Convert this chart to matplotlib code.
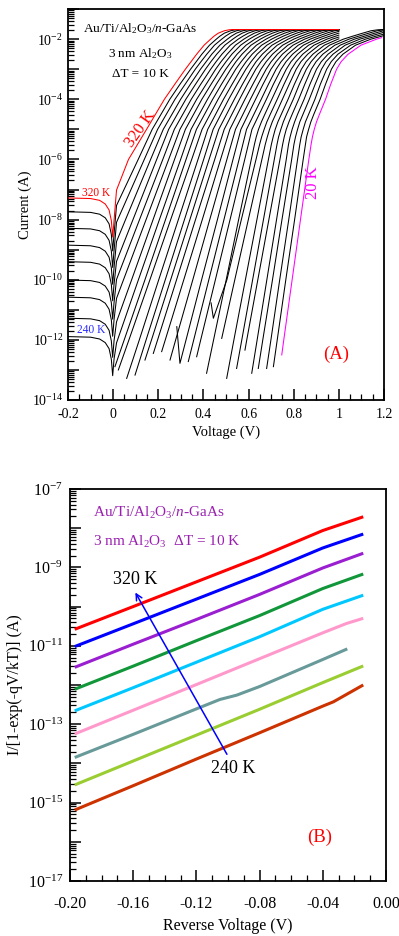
import numpy as np
import matplotlib
matplotlib.use('Agg')
import matplotlib.pyplot as plt
from matplotlib.ticker import LogLocator, FuncFormatter, MultipleLocator, NullFormatter

plt.rcParams['font.family'] = ['Liberation Serif', 'DejaVu Serif']
plt.rcParams['mathtext.fontset'] = 'custom'
plt.rcParams['mathtext.rm'] = 'Liberation Serif'
plt.rcParams['mathtext.it'] = 'Liberation Serif:italic'
plt.rcParams['mathtext.bf'] = 'Liberation Serif:bold'
plt.rcParams['axes.unicode_minus'] = False

nan = np.nan

# ---------------- panel (A): I-V curves, 320 K down to 20 K ----------------
fwd_temps = [320, 310, 300, 290, 280, 270, 260, 250, 240, 230, 220, 210, 200, 190, 180,
             170, 160, 150, 140, 130, 120, 110, 100, 90, 80, 70, 60, 50, 40, 30, 20]

# log10(I) levels and the voltage where each curve crosses them
levels = [-12, -10, -8, -6, -5, -4, -3.5, -3, -2.75, -2.5, -2.2, -2.0, -1.9, -1.8, -1.72, -1.69, -1.68]
v_cross = [
    [nan, nan, nan, .068, .148, .227, .273, .320, .345, .370, .403, .432, .447, .466, .493, .513, .528],
    [nan, nan, nan, .111, .173, .251, .296, .343, .368, .393, .427, .457, .473, .493, .521, .541, .556],
    [nan, nan, nan, .138, .197, .274, .319, .364, .389, .415, .449, .481, .498, .519, .547, .568, .583],
    [nan, nan, .055, .166, .222, .299, .342, .387, .412, .437, .473, .506, .524, .546, .575, .596, .611],
    [nan, nan, .088, .193, .246, .322, .365, .409, .433, .459, .495, .530, .549, .572, .601, .622, .638],
    [nan, nan, .117, .220, .271, .346, .388, .432, .456, .482, .519, .554, .575, .599, .629, .650, .666],
    [nan, .046, .146, .246, .296, .370, .412, .454, .478, .505, .542, .579, .601, .626, .656, .678, .694],
    [nan, .082, .177, .272, .320, .393, .434, .476, .500, .526, .565, .603, .626, .652, .683, .705, .721],
    [nan, .112, .205, .299, .345, .418, .457, .499, .523, .549, .589, .628, .652, .680, .710, .733, .749],
    [.049, .141, .232, .323, .369, .441, .480, .521, .544, .571, .611, .652, .677, .706, .737, .760, .776],
    [.070, .163, .255, .348, .394, .465, .503, .543, .567, .594, .635, .677, .703, .733, .764, .787, .804],
    [.116, .202, .289, .376, .419, .489, .527, .566, .589, .616, .658, .702, .729, .760, .792, .815, .832],
    [.146, .231, .316, .401, .443, .512, .549, .588, .611, .638, .681, .726, .754, .786, .818, .842, .859],
    [.170, .255, .340, .425, .468, .537, .573, .611, .633, .661, .704, .751, .780, .813, .846, .870, .887],
    [.197, .281, .365, .450, .492, .560, .595, .632, .655, .683, .727, .775, .805, .839, .872, .897, .914],
    [.231, .313, .395, .476, .517, .584, .619, .655, .678, .706, .751, .800, .832, .866, .900, .925, .942],
    [.277, .353, .428, .504, .542, .608, .642, .678, .700, .728, .774, .824, .858, .893, .927, .952, .970],
    [.323, .392, .462, .531, .566, .631, .664, .699, .722, .750, .797, .848, .883, .919, .954, .979, .997],
    [.357, .424, .491, .558, .591, .656, .688, .722, .744, .773, .820, .873, .909, .946, .981, nan, nan],
    [.388, .453, .518, .583, .615, .679, .710, .744, .766, .795, .843, .897, .934, .972, nan, nan, nan],
    [.445, .501, .556, .612, nan, .703, .734, .767, .788, .817, .866, .922, .960, .999, nan, nan, nan],
    [nan, .504, .568, .633, nan, .727, .757, .789, .811, .840, .890, .947, .986, nan, nan, nan, nan],
    [nan, .539, .599, .659, nan, .750, .780, .811, .832, .862, .912, .971, nan, nan, nan, nan, nan],
    [.535, .586, .637, .688, nan, .775, .803, .834, .855, .885, .936, .996, nan, nan, nan, nan, nan],
    [.570, .618, .666, .714, nan, .798, .825, .856, .877, .906, .959, 1.020, 1.062, 1.106, 1.143, 1.171, 1.190],
    [.592, .641, .690, .739, nan, .822, .849, .878, .899, .929, .982, 1.045, 1.088, 1.133, 1.171, 1.199, nan],
    [.638, .681, .724, .767, nan, .846, .872, .901, .922, .952, 1.006, 1.069, 1.114, 1.160, 1.198, nan, nan],
    [.663, .706, .748, .791, nan, .869, .895, .923, .943, .974, 1.028, 1.093, 1.139, 1.186, nan, nan, nan],
    [.699, .738, .778, .817, nan, .894, .918, .946, .966, .996, 1.052, 1.118, 1.165, nan, nan, nan, nan],
    [.727, .765, .804, .842, nan, .917, .941, .967, .987, 1.018, 1.074, 1.142, 1.190, nan, nan, nan, nan],
    [.756, .793, .830, .867, nan, .941, .964, .990, 1.010, 1.041, 1.098, 1.167, nan, nan, nan, nan, nan],
]

# bend near 1e-5 A on the low-temperature curves (120 K - 20 K)
knee_temps = [120, 110, 100, 90, 80, 70, 60, 50, 40, 30, 20]
knee_levels = [-5.5, -5.25, -5.0, -4.75, -4.5]
knee_v = [
    [.626, .634, .644, .657, .672],
    [.649, .658, .669, .681, .696],
    [.674, .683, .693, .705, .720],
    [.701, .709, .718, .730, .745],
    [.726, .733, .743, .754, .768],
    [.751, .758, .767, .779, .793],
    [.777, .784, .793, .804, .817],
    [.801, .808, .817, .827, .841],
    [.827, .833, .842, .852, .866],
    [.852, .857, .866, .876, .889],
    [.877, .883, .891, .901, .914],
]

# first forward point of each curve
start_v = [0.015] * 9 + [.008, .023, .060, .097, .141, .178, .215, .252, .296, .333, .370,
                         .414, .444, .481, .503, .547, .584, .614, .643, .680, .710, .747]
start_log = [-7.02, -7.53, -8.09, -8.73, -9.39, -9.99, -10.62, -11.40, -12.10,
             -12.89, -13.00, -13.28, -13.17, -12.67, -12.45, -12.39, -12.67, -12.78, -12.72,
             -12.56, -13.11, -11.28, -11.95, -13.28, -12.95, -12.34, -13.11, -12.95, -12.95,
             -12.89, -12.50]
# last point of each curve
end_v = [1.0] * 24 + [1.2] * 6 + [1.19]
end_log = [-1.68] * 18 + [-1.70, -1.74, -1.80, -1.865, -1.93, -1.99,
                          -1.68, -1.685, -1.715, -1.77, -1.83, -1.88, -1.95]

# small spikes at the start of two curves
hook_temps = [150, 110]
hook_v = [0.282, 0.434]
hook_log = [-11.56, -10.77]

# reverse-bias part (240 - 320 K)
rev_temps = [320, 310, 300, 290, 280, 270, 260, 250, 240]
rev_v = [-0.2, -0.1, -0.06, -0.035, -0.018, -0.008, -0.002, 0.004]
rev_log = [
    [-7.28, -7.30, -7.36, -7.48, -7.68, -8.03, -8.58, -8.03],
    [-7.74, -7.76, -7.82, -7.94, -8.14, -8.49, -9.04, -8.49],
    [-8.29, -8.31, -8.37, -8.49, -8.69, -9.04, -9.59, -9.04],
    [-8.85, -8.87, -8.93, -9.05, -9.25, -9.60, -10.15, -9.60],
    [-9.40, -9.42, -9.48, -9.60, -9.80, -10.15, -10.70, -10.15],
    [-10.01, -10.03, -10.09, -10.21, -10.41, -10.76, -11.31, -10.76],
    [-10.58, -10.60, -10.66, -10.78, -10.98, -11.33, -11.88, -11.33],
    [-11.28, -11.30, -11.36, -11.48, -11.68, -12.03, -12.58, -12.03],
    [-11.89, -11.91, -11.97, -12.09, -12.29, -12.64, -13.19, -12.64],
]

# ---------------- panel (B): I/[1-exp(-qV/kT)] vs reverse voltage ----------------
b_colors = ['#ff0000', '#0000ff', '#9a1fd0', '#11973a', '#00c8ff',
            '#ff99cc', '#689a9a', '#9acd32', '#cc3300']
b_v = [
    [-0.197, -0.16, -0.12, -0.08, -0.04, -0.0144],
    [-0.197, -0.16, -0.12, -0.08, -0.04, -0.0144],
    [-0.197, -0.16, -0.12, -0.08, -0.04, -0.0144],
    [-0.197, -0.16, -0.12, -0.08, -0.04, -0.0144],
    [-0.197, -0.16, -0.12, -0.08, -0.04, -0.0144],
    [-0.197, -0.16, -0.12, -0.08, -0.04, -0.0249, -0.0144],
    [-0.197, -0.16, -0.12, -0.1051, -0.0945, -0.08, -0.04, -0.0245],
    [-0.197, -0.16, -0.12, -0.08, -0.04, -0.0144],
    [-0.197, -0.16, -0.12, -0.08, -0.04, -0.0333, -0.0144],
]
b_log = [
    [-10.58, -10.00, -9.37, -8.74, -8.06, -7.71],
    [-11.02, -10.44, -9.81, -9.18, -8.505, -8.15],
    [-11.55, -10.96, -10.33, -9.69, -9.015, -8.64],
    [-12.11, -11.52, -10.87, -10.23, -9.54, -9.17],
    [-12.66, -12.07, -11.42, -10.77, -10.07, -9.71],
    [-13.25, -12.645, -11.99, -11.33, -10.67, -10.43, -10.30],
    [-13.85, -13.26, -12.61, -12.37, -12.26, -12.04, -11.35, -11.08],
    [-14.55, -13.94, -13.28, -12.62, -11.94, -11.515],
    [-15.19, -14.57, -13.89, -13.22, -12.54, -12.43, -12.00],
]


def log_label(keep_odd):
    def fmt(val, pos):
        e = int(round(np.log10(val)))
        if (e % 2 == 1) == keep_odd:
            return r'$10^{%d}$' % e
        return ''
    return fmt


def style_axis(ax, fs):
    for s in ax.spines.values():
        s.set_linewidth(1.3)
    ax.tick_params(which='both', direction='in', top=False, right=False, labelsize=fs)
    ax.tick_params(which='major', length=8, width=1.1)
    ax.tick_params(which='minor', length=4, width=0.9)
    ax.yaxis.set_major_locator(LogLocator(base=10, subs=(1.0,), numticks=50))
    ax.yaxis.set_minor_locator(LogLocator(base=10, subs=np.arange(2, 10) * 1.0, numticks=50))
    ax.yaxis.set_minor_formatter(NullFormatter())


fig = plt.figure(figsize=(3.99, 9.36), dpi=100)

# ---- panel A ----
axA = fig.add_axes([0.1704, 0.5726, 0.792, 0.4177])
for i, t in enumerate(fwd_temps):
    vv, ll = [], []
    if t in rev_temps:
        j = rev_temps.index(t)
        vv += rev_v
        ll += rev_log[j]
    if t in hook_temps:
        j = hook_temps.index(t)
        vv.append(hook_v[j])
        ll.append(hook_log[j])
    vv.append(start_v[i])
    ll.append(start_log[i])
    pts = list(zip(levels, v_cross[i]))
    if t in knee_temps:
        pts += list(zip(knee_levels, knee_v[knee_temps.index(t)]))
    pts.sort(key=lambda p: p[0])
    for lev, v in pts:
        if np.isnan(v) or lev <= start_log[i] or v <= start_v[i] or v >= end_v[i]:
            continue
        vv.append(v)
        ll.append(lev)
    vv.append(end_v[i])
    ll.append(end_log[i])
    if t == 320:
        col, z = '#ff0000', 3
    elif t == 20:
        col, z = '#ff00ff', 3
    else:
        col, z = 'black', 2
    axA.plot(vv, 10.0 ** np.array(ll), color=col, lw=0.75, zorder=z)

axA.set_yscale('log')
axA.set_xlim(-0.2, 1.2)
axA.set_ylim(1e-14, 1e-1)
style_axis(axA, 10)
axA.yaxis.set_major_formatter(FuncFormatter(log_label(False)))
axA.xaxis.set_major_locator(MultipleLocator(0.2))
axA.xaxis.set_minor_locator(MultipleLocator(0.05))
axA.xaxis.set_major_formatter(FuncFormatter(lambda x, p: '0' if abs(x) < 1e-9 else ('%g' % round(x, 2))))
axA.tick_params(axis='x', pad=6)
axA.set_xlabel('Voltage (V)', fontsize=10.5, labelpad=3)
axA.set_ylabel('Current (A)', fontsize=10.5)
axA.yaxis.set_label_coords(-0.115, 0.5)

axA.text(0.228, 0.949, r'Au/Ti/Al$_2$O$_3$/$n$-GaAs', transform=axA.transAxes,
         ha='center', va='center', fontsize=9.5)
axA.text(0.228, 0.887, r'3 nm Al$_2$O$_3$', transform=axA.transAxes,
         ha='center', va='center', fontsize=9.5)
axA.text(0.228, 0.834, 'ΔT = 10 K', transform=axA.transAxes,
         ha='center', va='center', fontsize=9.5)
axA.text(0.123, 10 ** -4.99, '320 K', color='#ff0000', rotation=55,
         ha='center', va='center', fontsize=12)
axA.text(-0.076, 10 ** -7.12, '320 K', color='#ff0000', ha='center', va='center', fontsize=8.3)
axA.text(-0.098, 10 ** -11.67, '240 K', color='#2a2aff', ha='center', va='center', fontsize=8.3)
axA.text(0.885, 10 ** -6.78, '20 K', color='#ff00ff', rotation=90,
         ha='center', va='center', fontsize=12)
axA.text(0.850, 0.118, '(A)', color='#ff0000', transform=axA.transAxes,
         ha='center', va='center', fontsize=13.5)

# ---- panel B ----
axB = fig.add_axes([0.1754, 0.0588, 0.792, 0.4188])
for vv, ll, col in zip(b_v, b_log, b_colors):
    axB.plot(vv, 10.0 ** np.array(ll), color=col, lw=2.2, solid_capstyle='butt')

axB.set_yscale('log')
axB.set_xlim(-0.2, 0.0)
axB.set_ylim(1e-17, 1e-7)
style_axis(axB, 11.5)
axB.yaxis.set_major_formatter(FuncFormatter(log_label(True)))
axB.xaxis.set_major_locator(MultipleLocator(0.04))
axB.xaxis.set_minor_locator(MultipleLocator(0.01))
axB.xaxis.set_major_formatter(FuncFormatter(lambda x, p: '%.2f' % (0.0 if abs(x) < 1e-9 else x)))
axB.tick_params(axis='x', pad=11)
axB.tick_params(axis='y', pad=5)
axB.set_xlabel('Reverse Voltage (V)', fontsize=11.5, labelpad=4)
axB.set_ylabel('I/[1-exp(-qV/kT)] (A)', fontsize=11.5)
axB.yaxis.set_label_coords(-0.148, 0.5)

axB.text(0.072, 0.938, r'Au/Ti/Al$_2$O$_3$/$n$-GaAs', transform=axB.transAxes,
         ha='left', va='center', fontsize=11, color='#9a20b0')
axB.text(0.072, 0.866, r'3 nm Al$_2$O$_3$  ΔT = 10 K', transform=axB.transAxes,
         ha='left', va='center', fontsize=11, color='#9a20b0')
axB.annotate('', xy=(-0.1595, 10 ** -9.58), xytext=(-0.0998, 10 ** -13.83),
             arrowprops=dict(arrowstyle='->', color='#0000ff', lw=1.1, mutation_scale=11))
axB.text(-0.159, 10 ** -9.32, '320 K', ha='center', va='center', fontsize=13)
axB.text(-0.097, 10 ** -14.13, '240 K', ha='center', va='center', fontsize=13)
axB.text(0.791, 0.110, '(B)', color='#ff0000', transform=axB.transAxes,
         ha='center', va='center', fontsize=13.5)

fig.savefig('out.png', dpi=100)
